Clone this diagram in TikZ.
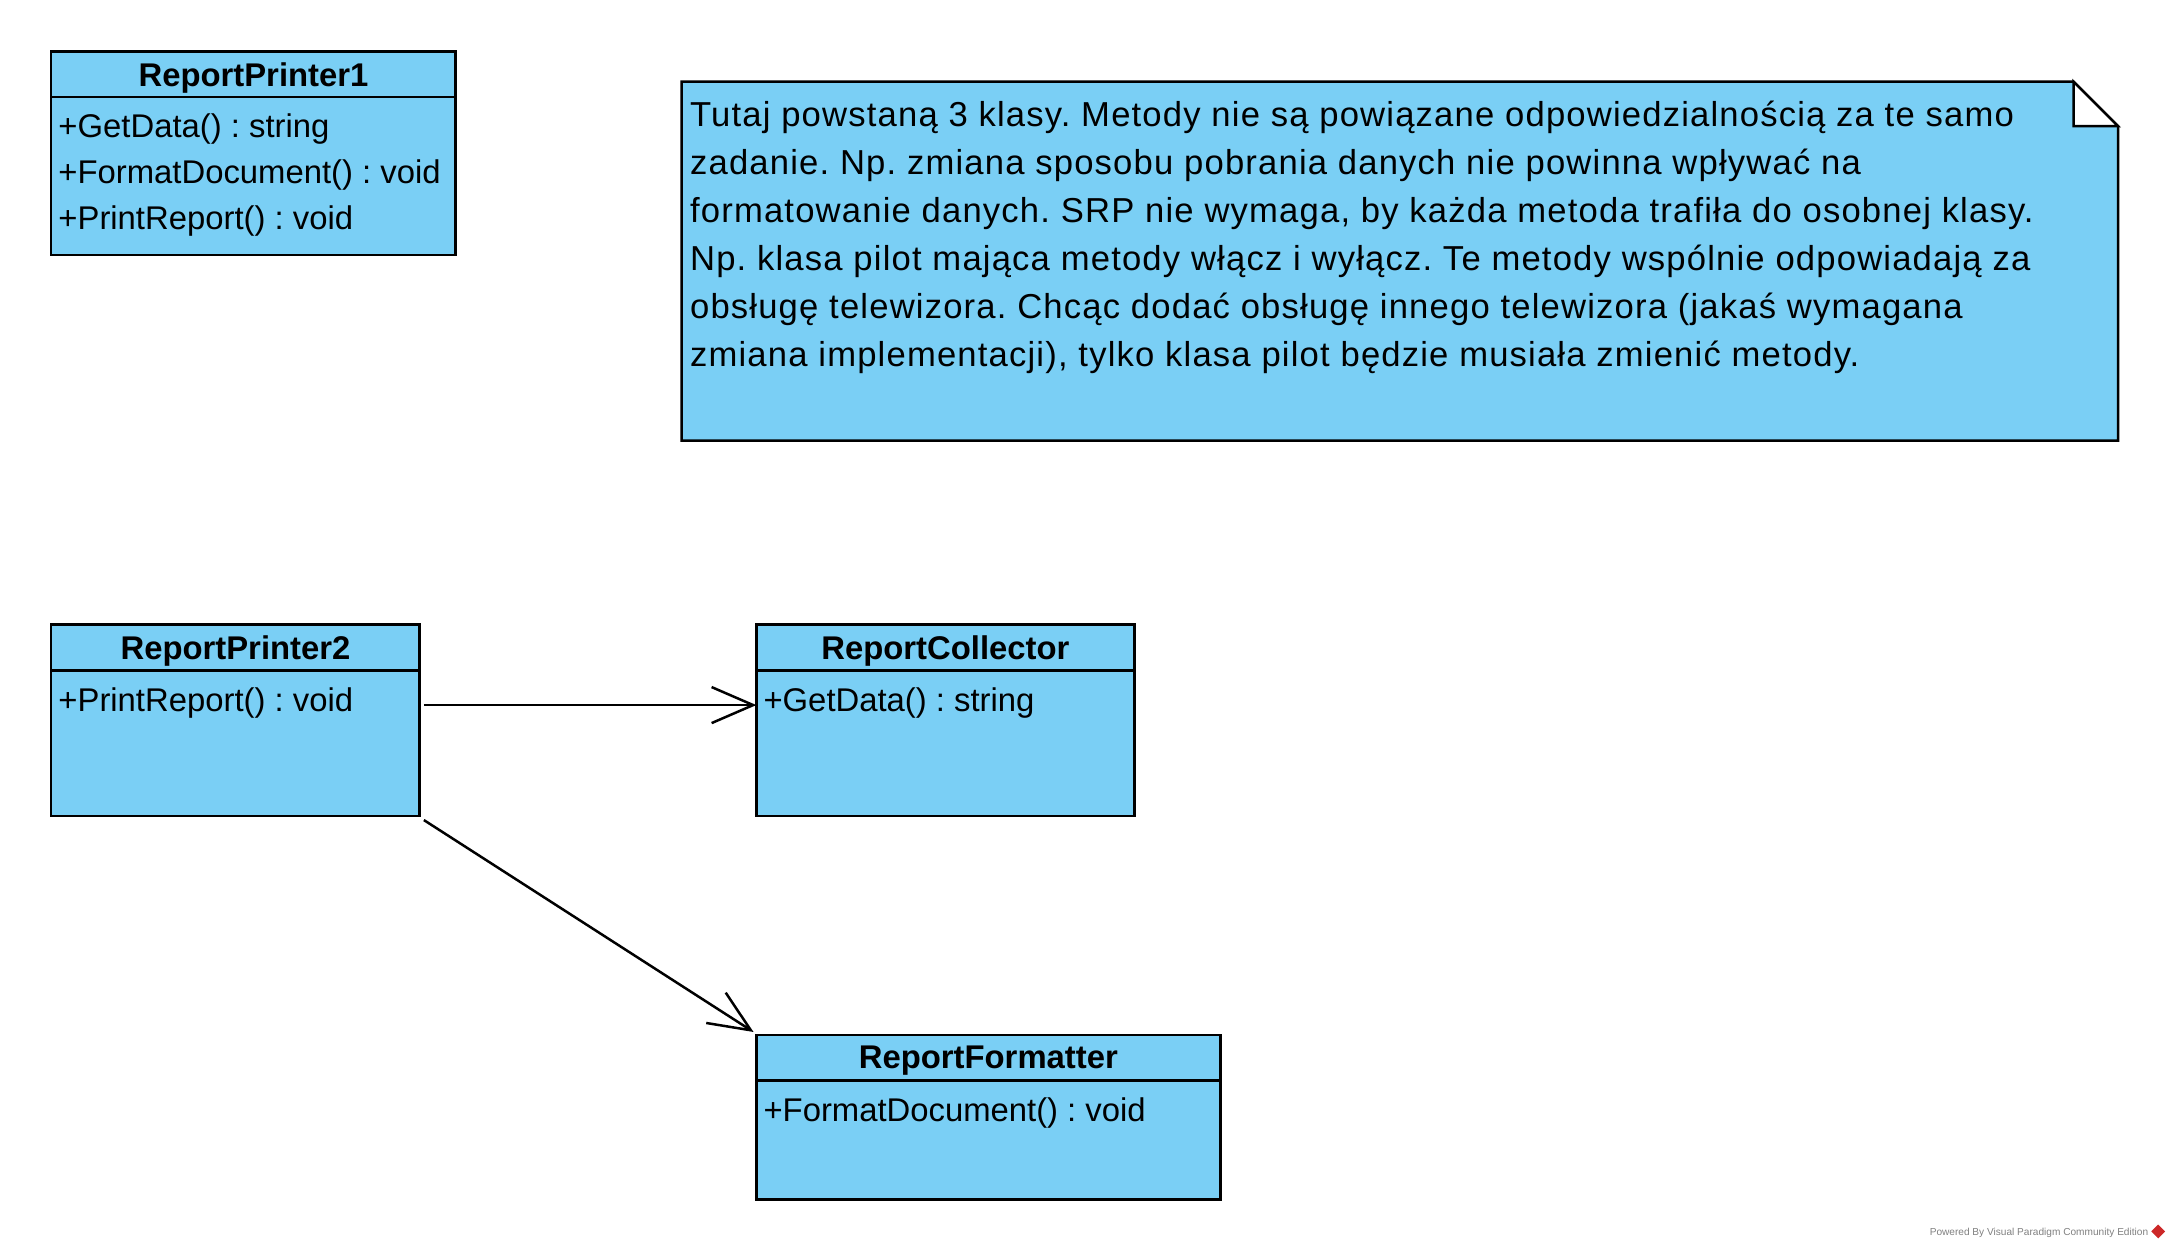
\documentclass[tikz,border=0pt]{standalone}
\usepackage{fontspec}
\setmainfont{Liberation Sans}
\newfontfamily\notefont[LetterSpace=3.4]{Liberation Sans}
\usetikzlibrary{positioning,arrows.meta}
\definecolor{classblue}{RGB}{122,207,245}
\definecolor{vpred}{RGB}{204,40,40}
\frenchspacing
\tikzset{
classhead/.style={draw, line width=1.8pt, fill=classblue, minimum height=33pt, inner sep=0pt, outer sep=0pt, text depth=0pt, font=\bfseries\fontsize{23.7}{33}\selectfont}, % top compartment, the class name
classbody/.style={draw, line width=1.8pt, fill=classblue, inner sep=0pt, outer sep=0pt}, % compartment for the operations
member/.style={align=left, inner sep=0pt, anchor=north west, font=\fontsize{23.7}{33}\selectfont}, % the operations, one per line
notetext/.style={align=left, inner sep=0pt, anchor=north west, font=\notefont\fontsize{25}{34.6}\selectfont},
assoc/.style={-{Straight Barb[length=30pt,width=26pt]}, line width=1.8pt}, % navigable association
}

\begin{document}
\begin{tikzpicture}[x=1pt,y=-1pt]
	\useasboundingbox (0,0) rectangle (1568,903);

	% first version, all in one class
	\node[classhead, minimum width=292pt] (rp1) at (183,53.5) {ReportPrinter1};
	\node[classbody, minimum width=292pt, minimum height=114pt, below=0pt of rp1] (rp1body) {};
	\node[member] (rp1ops) at ([xshift=5pt,yshift=-12pt]rp1body.north west) {+GetData() : string\\+FormatDocument() : void\\+PrintReport() : void};

	% note
	\draw[line width=1.8pt, fill=classblue] (492,59) -- (1497,59) -- (1529,91) -- (1529,318) -- (492,318) -- cycle;
	\draw[line width=1.8pt, fill=white] (1497,59) -- (1497,91) -- (1529,91) -- cycle;
	\node[notetext] (note) at (498,73) {Tutaj powstaną 3 klasy. Metody nie są powiązane odpowiedzialnością za te samo\\zadanie. Np. zmiana sposobu pobrania danych nie powinna wpływać na\\formatowanie danych. SRP nie wymaga, by każda metoda trafiła do osobnej klasy.\\Np. klasa pilot mająca metody włącz i wyłącz. Te metody wspólnie odpowiadają za\\obsługę telewizora. Chcąc dodać obsługę innego telewizora (jakaś wymagana\\zmiana implementacji), tylko klasa pilot będzie musiała zmienić metody.};

	% second version, split in 3 classes
	\node[classhead, minimum width=266pt] (rp2) at (170,467.5) {ReportPrinter2};
	\node[classbody, minimum width=266pt, minimum height=105pt, below=0pt of rp2] (rp2body) {};
	\node[member] (rp2ops) at ([xshift=5pt,yshift=-12pt]rp2body.north west) {+PrintReport() : void};

	\node[classhead, minimum width=273pt] (rc) at (682.5,467.5) {ReportCollector};
	\node[classbody, minimum width=273pt, minimum height=105pt, below=0pt of rc] (rcbody) {};
	\node[member] (rcops) at ([xshift=5pt,yshift=-12pt]rcbody.north west) {+GetData() : string};

	\node[classhead, minimum width=335pt] (rf) at (713.5,763.5) {ReportFormatter};
	\node[classbody, minimum width=335pt, minimum height=86pt, below=0pt of rf] (rfbody) {};
	\node[member] (rfops) at ([xshift=5pt,yshift=-12pt]rfbody.north west) {+FormatDocument() : void};

	\draw[assoc] ([xshift=3pt,yshift=27.5pt]rp2body.east) -- ([yshift=27.5pt]rcbody.west);
	\draw[assoc] ([shift={(3pt,-3pt)}]rp2body.south east) -- ([shift={(-2pt,2pt)}]rf.north west);

	% watermark
	\node[anchor=east, inner sep=0pt, text=gray, font=\fontsize{7.3}{8}\selectfont] (powered) at (1551,890) {Powered By Visual Paradigm Community Edition};
	\fill[vpred] (1558,884) -- (1563,889) -- (1558,894) -- (1553,889) -- cycle;
\end{tikzpicture}
\end{document}
